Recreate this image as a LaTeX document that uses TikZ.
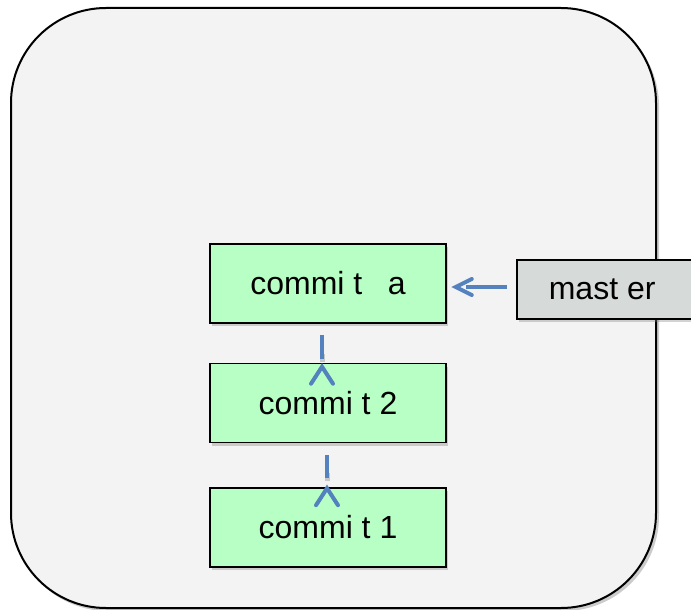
\documentclass[tikz,border=0pt]{standalone}
\usepackage{fontspec}
\setmainfont{Liberation Sans}
\usetikzlibrary{shadows}
\definecolor{panelfill}{RGB}{243,243,243}
\definecolor{commitfill}{RGB}{183,255,197}
\definecolor{branchfill}{RGB}{214,219,217}
\definecolor{linkblue}{RGB}{84,130,190}
\tikzset{
  commitbox/.style={draw=black, line width=1.5pt, fill=commitfill,
    minimum width=236pt, minimum height=79pt, inner sep=0pt,
    font=\fontsize{32}{36}\selectfont,
    drop shadow={shadow xshift=2pt, shadow yshift=-3pt, opacity=0.35}},
  branchbox/.style={draw=black, line width=1.5pt, fill=branchfill,
    minimum width=190pt, minimum height=59pt, inner sep=0pt,
    font=\fontsize{32}{36}\selectfont,
    drop shadow={shadow xshift=2pt, shadow yshift=-3pt, opacity=0.35}},
  link/.style={draw=linkblue, line width=4pt},
  linkshade/.style={draw=black, opacity=0.18, line width=5pt},
}
\begin{document}
\begin{tikzpicture}[x=1pt, y=-1pt]
\useasboundingbox (0,0) rectangle (691,610);
% repository panel
\fill[black, opacity=0.2, rounded corners=95pt] (13,11) rectangle (659,611);
\draw[line width=2pt, fill=panelfill, rounded corners=95pt] (11,8) rectangle (656,608);

% commits and branch label
\node[commitbox] (ca) at (328,283.5) {commi t\hspace{0.8em}a};
\node[commitbox] (c2) at (328,403) {commi t 2};
\node[commitbox] (c1) at (328,527.5) {commi t 1};
\node[branchbox, anchor=west] (master) at (516,289.5) {\hspace{-0.6em}mast er};

% parent links (stem below the child, open head on the parent side)
\coordinate (s1a) at ([xshift=-6pt, yshift=-11pt]ca.south);
\coordinate (s1b) at ([xshift=-6pt, yshift=-35pt]ca.south);
\coordinate (h1) at ([xshift=-6pt, yshift=-4pt]c2.north);
\draw[linkshade] ([yshift=-3pt]s1b) -- ++(0,-8);
\draw[link] (s1a) -- (s1b);
\draw[link, line cap=round] ([shift={(-11,17)}]h1) -- (h1) -- ([shift={(11,17)}]h1);

\coordinate (s2a) at ([xshift=-1pt, yshift=-12pt]c2.south);
\coordinate (s2b) at ([xshift=-1pt, yshift=-35pt]c2.south);
\coordinate (h2) at ([xshift=-1pt, yshift=-1pt]c1.north);
\draw[linkshade] ([yshift=-3pt]s2b) -- ++(0,-8);
\draw[link] (s2a) -- (s2b);
\draw[link, line cap=round] ([shift={(-11,17)}]h2) -- (h2) -- ([shift={(11,17)}]h2);

% branch pointer
\coordinate (m0) at ([xshift=-9pt, yshift=2.5pt]master.west);
\coordinate (mt) at ([xshift=9pt, yshift=-3.5pt]ca.east);
\draw[link] (m0) -- ([xshift=10pt]mt);
\draw[link, line cap=round] ([shift={(16,-8)}]mt) -- (mt) -- ([shift={(16,8)}]mt);
\end{tikzpicture}
\end{document}
